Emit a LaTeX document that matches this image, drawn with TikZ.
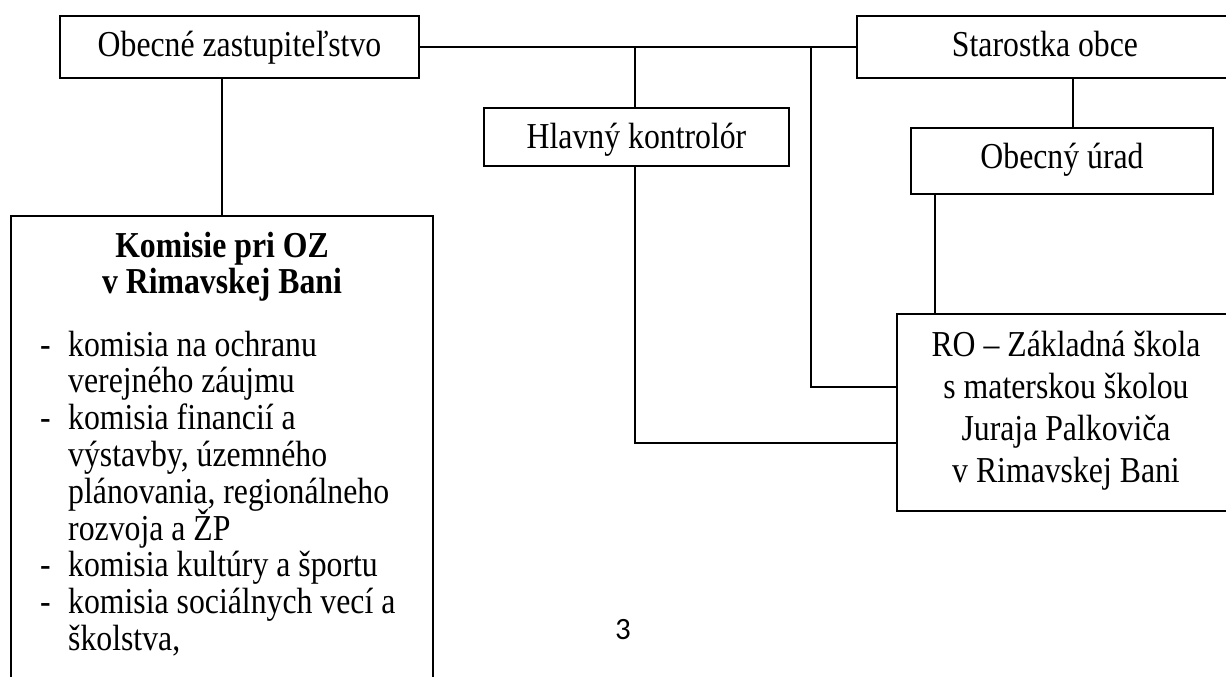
\documentclass[tikz,border=0pt]{standalone}
\usepackage{fontspec}
\setmainfont{Liberation Serif}[FakeStretch=0.87]
\newfontfamily\pagenumfont{Carlito}
\begin{document}
\begin{tikzpicture}[x=1pt,y=-1pt,
  box/.style={draw, line width=2.2pt, inner sep=0pt, text height=20pt, text depth=0pt,
    font=\fontsize{36.5}{36.8}\selectfont},
  txt/.style={inner sep=0pt, font=\fontsize{36.5}{36.8}\selectfont},
  btxt/.style={inner sep=0pt, font=\fontsize{36.5}{36.8}\selectfont\bfseries},
  conn/.style={line width=2.2pt}]
\useasboundingbox (0,0) rectangle (1226,677);
\fill[white] (0,0) rectangle (1226,677);
\clip (0,0) rectangle (1226,677);

% boxes
\node[box, minimum width=359pt, minimum height=62pt] (oz) at (239.5,47) {Obecné zastupiteľstvo};
\node[box, minimum width=376pt, minimum height=62pt] (sta) at (1045,47) {Starostka obce};
\node[box, minimum width=305pt, minimum height=58pt, text height=22pt] (hk) at (636.5,137) {Hlavný kontrolór};
\node[box, minimum width=302pt, minimum height=66pt, text height=14pt] (ou) at (1062,161) {Obecný úrad};
\node[box, minimum width=340pt, minimum height=197pt] (ro) at (1067,412.5) {};
\node[box, minimum width=422pt, minimum height=504pt] (kom) at (222,468) {};

% RO text
\node[txt, anchor=base] (ro1) at (1066,356) {RO – Základná škola};
\node[txt, anchor=base] (ro2) at (1066,398) {s materskou školou};
\node[txt, anchor=base] (ro3) at (1066,440) {Juraja Palkoviča};
\node[txt, anchor=base] (ro4) at (1066,482) {v Rimavskej Bani};

% Komisie text
\node[btxt, anchor=base] (k1) at (222,257) {Komisie pri OZ};
\node[btxt, anchor=base] (k2) at (222,293) {v Rimavskej Bani};

\node[txt, anchor=base west] (d1) at (40,356) {-};
\node[txt, anchor=base west] (d2) at (40,429.6) {-};
\node[txt, anchor=base west] (d3) at (40,576.8) {-};
\node[txt, anchor=base west] (d4) at (40,613.6) {-};

\node[txt, anchor=base west] (l1) at (68,356) {komisia na ochranu};
\node[txt, anchor=base west] (l2) at (68,392.8) {verejného záujmu};
\node[txt, anchor=base west] (l3) at (68,429.6) {komisia financií a};
\node[txt, anchor=base west] (l4) at (68,466.4) {výstavby, územného};
\node[txt, anchor=base west] (l5) at (68,503.2) {plánovania, regionálneho};
\node[txt, anchor=base west] (l6) at (68,540) {rozvoja a ŽP};
\node[txt, anchor=base west] (l7) at (68,576.8) {komisia kultúry a športu};
\node[txt, anchor=base west] (l8) at (68,613.6) {komisia sociálnych vecí a};
\node[txt, anchor=base west] (l9) at (68,650.4) {školstva,};

% page number
\node[inner sep=0pt, anchor=base, font=\pagenumfont\fontsize{31}{32}\selectfont] (pg) at (623,639) {3};

% connectors
\coordinate (j1) at (635,47);
\coordinate (j2) at (811,47);
\coordinate (r1) at (897,387);
\coordinate (r2) at (897,443);
\coordinate (s1) at (1073,78);
\coordinate (o1) at (935,194);

\draw[conn] (oz.east) -- (sta.west);
\draw[conn] (oz.south -| kom.north) -- (kom.north);
\draw[conn] (j1) -- (j1 |- hk.north);
\draw[conn] (j1 |- hk.south) |- (r2);
\draw[conn] (j2) |- (r1);
\draw[conn] (s1) -- (s1 |- ou.north);
\draw[conn] (o1) -- (o1 |- ro.north);
\end{tikzpicture}
\end{document}
